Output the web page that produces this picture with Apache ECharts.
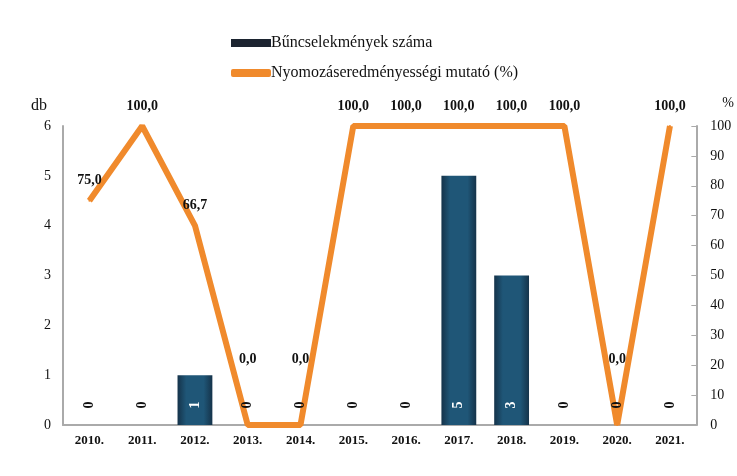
<!DOCTYPE html>
<html>
<head>
<meta charset="utf-8">
<script src="https://cdn.jsdelivr.net/npm/echarts@6/dist/echarts.min.js"></script>
<style>
  html, body { margin: 0; padding: 0; background: #fff; }
  #chart { width: 737px; height: 476px; }
</style>
</head>
<body>
<div id="chart"></div>
<script>
// adatok
var years = ['2010.', '2011.', '2012.', '2013.', '2014.', '2015.', '2016.', '2017.', '2018.', '2019.', '2020.', '2021.'];
var cases = [0, 0, 1, 0, 0, 0, 0, 5, 3, 0, 0, 0];
var rate = [75, 100, 66.7, 0, 0, 100, 100, 100, 100, 100, 0, 100];

var serif = '"Liberation Serif", "Times New Roman", serif';

var myChart = echarts.init(document.getElementById('chart'));

var option = {
    backgroundColor: '#fff',
    textStyle: { fontFamily: serif },
    legend: {
        orient: 'vertical',
        left: 226,
        top: 30,
        itemGap: 14,
        itemWidth: 40,
        itemHeight: 8,
        textStyle: { fontFamily: serif, fontSize: 16, color: '#111', padding: [0, 0, 0, -5] },
        data: [
            { name: 'Bűncselekmények száma', icon: 'rect', itemStyle: { color: '#1c2430' } },
            { name: 'Nyomozáseredményességi mutató (%)', icon: 'roundRect', itemStyle: { color: '#f08a2c', opacity: 1 } }
        ]
    },
    grid: { left: 63, right: 37, top: 126, bottom: 51 },
    xAxis: {
        type: 'category',
        data: years,
        axisLine: { lineStyle: { color: '#aaa', width: 2 } },
        axisTick: { show: false },
        axisLabel: { color: '#111', fontFamily: serif, fontWeight: 'bold', fontSize: 13, margin: 9 }
    },
    yAxis: [
        {
            type: 'value',
            name: 'db',
            min: 0, max: 6, interval: 1,
            nameGap: 12,
            nameTextStyle: { color: '#111', fontFamily: serif, fontSize: 16, align: 'right', padding: [0, 16, 0, 0] },
            axisLine: { show: true, lineStyle: { color: '#aaa', width: 2 } },
            axisTick: { show: false },
            splitLine: { show: false },
            axisLabel: { color: '#111', fontFamily: serif, fontSize: 14, margin: 12 }
        },
        {
            type: 'value',
            name: '%',
            min: 0, max: 100, interval: 10,
            nameGap: 16,
            nameTextStyle: { color: '#111', fontFamily: serif, fontSize: 14, align: 'left', padding: [0, 0, 0, 26] },
            axisLine: { show: true, lineStyle: { color: '#aaa', width: 2 } },
            axisTick: { show: true, inside: true, length: 5, lineStyle: { color: '#aaa' } },
            splitLine: { show: false },
            axisLabel: { color: '#111', fontFamily: serif, fontSize: 14, margin: 14 }
        }
    ],
    series: [
        {
            name: 'Bűncselekmények száma',
            type: 'bar',
            yAxisIndex: 0,
            barWidth: '66%',
            data: cases,
            itemStyle: {
                color: new echarts.graphic.LinearGradient(0, 0, 1, 0, [
                    { offset: 0, color: '#15334a' },
                    { offset: 0.25, color: '#1f5677' },
                    { offset: 0.75, color: '#1f5677' },
                    { offset: 1, color: '#15334a' }
                ])
            },
            label: {
                show: true,
                position: 'insideBottom',
                rotate: 90,
                align: 'center',
                verticalAlign: 'middle',
                offset: [15, 0],
                fontFamily: serif,
                fontWeight: 'bold',
                fontSize: 14,
                formatter: function (p) {
                    return p.value > 0 ? '{w|' + p.value + '}' : '{b|0}';
                },
                rich: {
                    w: { color: '#fff', fontFamily: serif, fontWeight: 'bold', fontSize: 14 },
                    b: { color: '#111', fontFamily: serif, fontWeight: 'bold', fontSize: 14 }
                }
            },
            z: 4
        },
        {
            name: 'Nyomozáseredményességi mutató (%)',
            type: 'line',
            yAxisIndex: 1,
            symbol: 'circle',
            symbolSize: 2,
            showSymbol: true,
            data: rate.map(function (v) {
                return v === 0 ? { value: v, label: { distance: 58 } } : v;
            }),
            lineStyle: { color: '#f08a2c', width: 6 },
            itemStyle: { color: '#f08a2c' },
            label: {
                show: true,
                position: 'top',
                distance: 12,
                color: '#111',
                fontFamily: serif,
                fontWeight: 'bold',
                fontSize: 14,
                formatter: function (p) {
                    return p.value.toFixed(1).replace('.', ',');
                }
            },
            labelLayout: { hideOverlap: false },
            z: 3
        }
    ]
};

myChart.setOption(option);
</script>
</body>
</html>
